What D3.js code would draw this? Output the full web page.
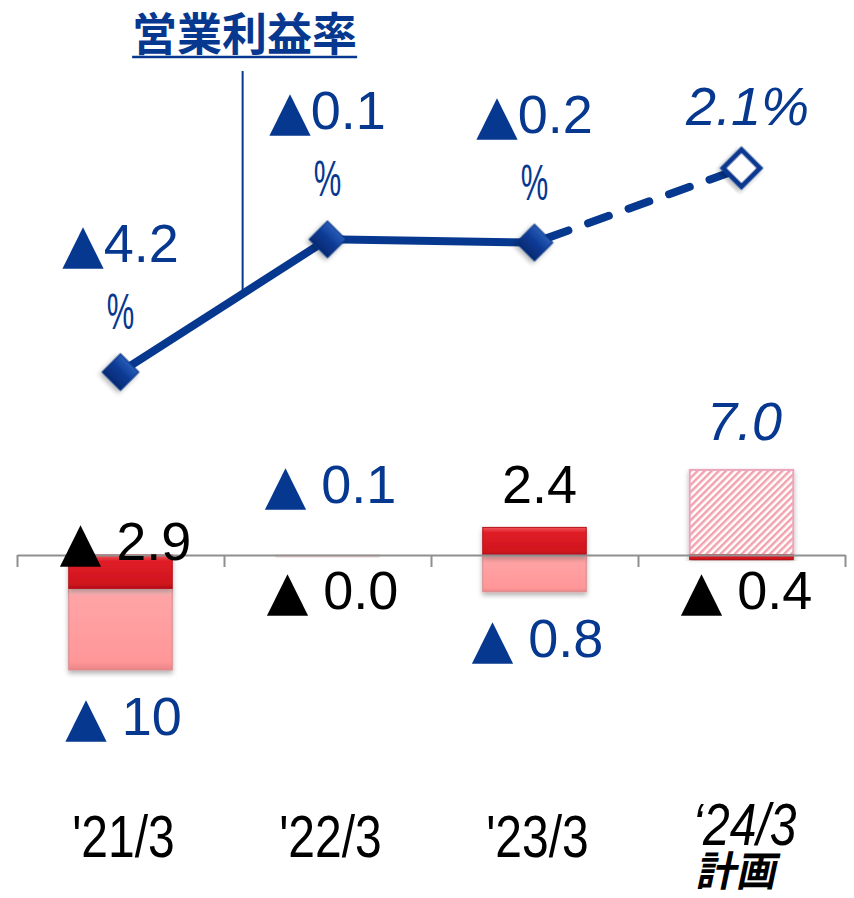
<!DOCTYPE html>
<html>
<head>
<meta charset="utf-8">
<script src="https://cdn.jsdelivr.net/npm/d3@7"></script>
<style>
  body { margin: 0; background: #fff; }
  svg { display: block; }
</style>
</head>
<body>
<div id="chart"></div>
<script>
const W = 854, H = 898;

// category info
const categories = ["'21/3", "'22/3", "'23/3", "'24/3"];
const catLabels = [["'21/3"], ["'22/3"], ["'23/3"], ["\u201824/3", "計画"]];
const isPlan = [false, false, false, true];
const title = '営業利益率';

// operating margin (%)
const marginPct = [-4.2, -0.1, -0.2, 2.1];
// bar series (dark red = black labels, light red = remainder, blue = total)
const darkPart = [-2.9, -0.0, 2.4, -0.4];
const lightPart = [-7.1, -0.1, -3.2, 7.4];
const totals = [-10, -0.1, -0.8, 7.0];

const navy = '#07388f';
const numFont = "'Liberation Sans', Arial, sans-serif";
const triFont = "'DejaVu Sans', sans-serif";
const cjkFont = "'Noto Sans CJK JP', 'Noto Sans', sans-serif";

const isNeg = v => v < 0 || Object.is(v, -0);
const numText = v => {
  const a = Math.abs(v);
  return a >= 10 ? d3.format('.0f')(a) : d3.format('.1f')(a);
};
// writes "▲ 1.0" style label, triangle drawn in a font with a large glyph
function signedText(sel, v, gap) {
  if (isNeg(v)) {
    sel.append('tspan').attr('font-family', triFont).attr('font-size', '1em').text('▲');
    sel.append('tspan').text(gap + numText(v));
  } else {
    sel.append('tspan').text(numText(v));
  }
  return sel;
}

const svg = d3.select('#chart').append('svg')
  .attr('width', W).attr('height', H)
  .attr('viewBox', `0 0 ${W} ${H}`);

const defs = svg.append('defs');
const shadow = defs.append('filter').attr('id', 'shadow')
  .attr('x', '-20%').attr('y', '-20%').attr('width', '140%').attr('height', '150%');
shadow.append('feDropShadow').attr('dx', 0).attr('dy', 3)
  .attr('stdDeviation', 2.5).attr('flood-opacity', 0.3);

function vGrad(id, stops) {
  const g = defs.append('linearGradient').attr('id', id)
    .attr('x1', 0).attr('y1', 0).attr('x2', 0).attr('y2', 1);
  stops.forEach(s => g.append('stop').attr('offset', s[0]).attr('stop-color', s[1]));
}
vGrad('darkGrad', [[0, '#f0565c'], [0.18, '#e01f28'], [0.85, '#d0141d'], [1, '#b80f18']]);
vGrad('lightGrad', [[0, '#ffd0d0'], [0.1, '#ffa4a6'], [0.9, '#ff9698'], [1, '#e98587']]);
vGrad('markGrad', [[0, '#2a5cb8'], [0.5, '#0b3a94'], [1, '#052a72']]);

const hatch = defs.append('pattern').attr('id', 'hatch')
  .attr('patternUnits', 'userSpaceOnUse').attr('width', 5).attr('height', 5)
  .attr('patternTransform', 'rotate(45)');
hatch.append('rect').attr('width', 5).attr('height', 5).attr('fill', '#fff');
hatch.append('rect').attr('width', 2.5).attr('height', 5).attr('fill', '#f2a2ad');

// scales
const x = d3.scaleBand().domain(categories).range([17, 845]).padding(0);
const xEdge = d3.scaleLinear().domain([0, categories.length]).range([17, 845]);
const cx = c => x(c) + x.bandwidth() / 2;
const yBar = d3.scaleLinear().domain([-10, 10]).range([670, 440]);
const yLine = d3.scaleLinear().domain([-5, 3]).range([398, 139]);

// ---- bars ----
const barW = x.bandwidth() * 0.5;
const rows = categories.map((c, i) => {
  const d = darkPart[i], l = lightPart[i];
  const lBase = (Math.sign(l) === Math.sign(d) && d !== 0) ? d : 0;
  return { c, i, d, l, lBase, total: totals[i], plan: isPlan[i] };
});

const barG = svg.append('g');
function drawBar(g, c, v0, v1, fill, stroke, plan) {
  const top = yBar(Math.max(v0, v1)), bot = yBar(Math.min(v0, v1));
  const h = bot - top;
  if (h <= 0) return;
  g.append('rect')
    .attr('x', cx(c) - barW / 2).attr('y', top)
    .attr('width', barW).attr('height', Math.max(h, 2))
    .attr('fill', fill).attr('stroke', stroke).attr('stroke-width', plan ? 2 : 1)
    .attr('opacity', h < 3 ? 0.35 : 1)
    .attr('filter', 'url(#shadow)');
}
rows.forEach(r => {
  if (r.plan) {
    drawBar(barG, r.c, r.lBase, r.lBase + r.l, 'url(#hatch)', '#eba6be', true);
  } else {
    drawBar(barG, r.c, r.lBase, r.lBase + r.l, 'url(#lightGrad)', '#d98a8c');
  }
  drawBar(barG, r.c, 0, r.d, 'url(#darkGrad)', '#b3121a');
});

// ---- x axis (ticks on category edges) ----
const axis = svg.append('g')
  .attr('transform', `translate(0,${yBar(0)})`)
  .call(d3.axisBottom(xEdge).ticks(categories.length).tickSize(12).tickSizeOuter(0).tickFormat(''));
axis.selectAll('path, line').attr('stroke', '#8f8f8f').attr('stroke-width', 2);

// ---- bar labels ----
const labG = svg.append('g').attr('font-family', numFont).attr('font-size', 54);
rows.forEach(r => {
  const negExt = Math.min(0, r.lBase + r.l, r.d);
  const posExt = Math.max(0, r.lBase + r.l, r.d);
  const totalBelow = negExt < -1;
  // total (blue)
  const ty = totalBelow ? yBar(negExt) + 65 : Math.min(yBar(posExt) - 30, yBar(0) - 52);
  signedText(labG.append('text')
    .attr('x', cx(r.c) + 3).attr('y', ty)
    .attr('text-anchor', 'middle').attr('fill', navy)
    .attr('font-style', r.plan ? 'italic' : null), r.total, ' ');
  // operating part (black)
  let dy;
  if (!isNeg(r.d)) dy = yBar(r.d) - 24;
  else dy = totalBelow ? yBar(0) + 5 : yBar(0) + 54;
  signedText(labG.append('text')
    .attr('x', cx(r.c) + 5).attr('y', dy)
    .attr('text-anchor', 'middle').attr('fill', '#000'), r.d, ' ');
});

// ---- margin line ----
const pts = categories.map((c, i) => ({ x: cx(c), y: yLine(marginPct[i]), v: marginPct[i], plan: isPlan[i] }));
const line = d3.line().x(d => d.x).y(d => d.y);
const actual = pts.filter(p => !p.plan);
const planSeg = pts.slice(actual.length - 1);

// leader from title to line
const t = 0.59;
const lx = pts[0].x + t * (pts[1].x - pts[0].x);
const ly = pts[0].y + t * (pts[1].y - pts[0].y);
svg.append('line').attr('x1', lx).attr('x2', lx).attr('y1', 71).attr('y2', ly)
  .attr('stroke', navy).attr('stroke-width', 2);

svg.append('path').datum(actual).attr('d', line)
  .attr('fill', 'none').attr('stroke', navy).attr('stroke-width', 8);
svg.append('path').datum(planSeg).attr('d', line)
  .attr('fill', 'none').attr('stroke', navy).attr('stroke-width', 8)
  .attr('stroke-linecap', 'round').attr('stroke-dasharray', '22 21')
  .attr('stroke-dashoffset', -14);

const side = 26;
svg.append('g').selectAll('rect.mark').data(pts).enter().append('rect')
  .attr('class', 'mark')
  .attr('x', -side / 2).attr('y', -side / 2)
  .attr('width', side).attr('height', side)
  .attr('transform', d => `translate(${d.x},${d.y}) rotate(45)`)
  .attr('fill', d => d.plan ? '#fff' : 'url(#markGrad)')
  .attr('stroke', d => d.plan ? navy : '#0a3480')
  .attr('stroke-width', d => d.plan ? 5 : 1)
  .attr('filter', 'url(#shadow)');

// margin labels
const mlG = svg.append('g').attr('font-family', numFont).attr('font-size', 54).attr('fill', navy);
pts.forEach(p => {
  if (isNeg(p.v)) {
    signedText(mlG.append('text').attr('x', p.x).attr('y', p.y - 110)
      .attr('text-anchor', 'middle'), p.v, '');
    mlG.append('text')
      .attr('transform', `translate(${p.x},${p.y - 43}) scale(0.62,1)`)
      .attr('text-anchor', 'middle').attr('font-size', 50).text('%');
  } else {
    mlG.append('text').attr('x', p.x + 6).attr('y', p.y - 43)
      .attr('text-anchor', 'middle').attr('font-style', 'italic')
      .text(numText(p.v) + '%');
  }
});

// title
const titleText = svg.append('text')
  .attr('x', lx + 2).attr('y', 51)
  .attr('text-anchor', 'middle')
  .attr('font-family', cjkFont).attr('font-weight', 700).attr('font-size', 45)
  .attr('fill', navy).text(title);
const tb = titleText.node().getBBox();
svg.append('line').attr('x1', tb.x).attr('x2', tb.x + tb.width)
  .attr('y1', 57).attr('y2', 57).attr('stroke', navy).attr('stroke-width', 2.5);

// category labels (condensed by a horizontal scale)
const xlG = svg.append('g').attr('fill', '#000');
rows.forEach(r => {
  catLabels[r.i].forEach((s, k) => {
    const cjk = /[\u3000-\u9fff]/.test(s);
    const yy = (r.plan ? 845 : 857) + k * 41;
    xlG.append('text')
      .attr('transform', cjk
        ? `translate(${cx(r.c) - 6},${yy}) skewX(-12) scale(0.98,1)`
        : `translate(${cx(r.c) + 3},${yy}) scale(0.8,1)`)
      .attr('text-anchor', 'middle')
      .attr('font-family', cjk ? cjkFont : numFont)
      .attr('font-size', cjk ? 41 : 60)
      .attr('font-weight', cjk ? 700 : 400)
      .attr('font-style', r.plan && !cjk ? 'italic' : null)
      .text(s);
  });
});
</script>
</body>
</html>
